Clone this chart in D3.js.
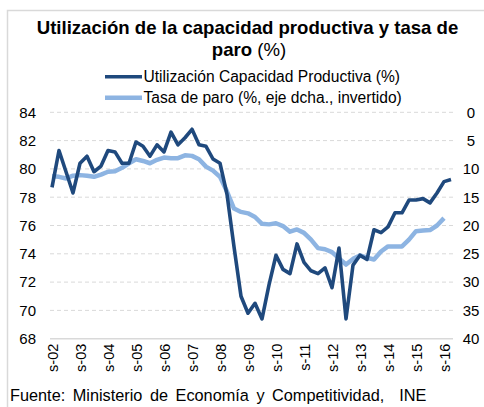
<!DOCTYPE html>
<html>
<head>
<meta charset="utf-8">
<script src="https://cdn.jsdelivr.net/npm/d3@7"></script>
<style>
  body { margin: 0; background: #fff; }
  svg { display: block; font-family: Arial, "Liberation Sans", sans-serif; }
  .grid line { stroke: #d9d9d9; stroke-dasharray: 4,3; }
  .axis text { fill: #000; }
</style>
</head>
<body>
<svg width="484" height="407"></svg>
<script>
// Utilización de la capacidad productiva (%), trimestral, desde sep-02
const capacidad = [
  78.7, 81.3, 79.8, 78.3, 80.4, 80.9, 79.8, 80.2, 81.3, 81.2,
  80.4, 80.4, 81.9, 81.6, 80.9, 81.7, 81.2, 82.6, 81.7, 82.2,
  82.8, 81.7, 81.6, 80.7, 80.4, 78.2, 74.5, 71.0, 69.8, 70.5,
  69.4, 71.8, 73.9, 72.9, 72.6, 74.7, 73.4, 72.8, 72.6, 73.0,
  71.6, 74.4, 69.4, 73.2, 73.9, 73.6, 75.7, 75.5, 75.9, 76.9,
  76.9, 77.8, 77.8, 77.9, 77.6, 78.3, 79.1, 79.25
];
// Tasa de paro (%), eje derecho invertido
const paro = [
  11.3, 11.4, 11.7, 11.2, 11.1, 11.2, 11.4, 11.0, 10.5, 10.4,
  9.8, 9.0, 8.3, 8.6, 9.0, 8.4, 8.0, 8.1, 8.1, 7.6,
  7.7, 8.3, 9.6, 10.3, 11.4, 14.0, 17.0, 17.6, 17.85, 18.5,
  19.7, 19.8, 19.6, 20.1, 21.1, 20.7, 21.3, 22.5, 24.0, 24.2,
  24.7, 25.8, 26.9, 25.9, 25.3, 25.7, 26.0, 24.6, 23.7, 23.7,
  23.7, 22.5, 21.0, 20.9, 20.8, 20.0, 18.7
];
const xLabels = ['s-02', 's-03', 's-04', 's-05', 's-06', 's-07', 's-08', 's-09',
  's-10', 's-11', 's-12', 's-13', 's-14', 's-15', 's-16'];
const leftTicks = [68, 70, 72, 74, 76, 78, 80, 82, 84];
const rightTicks = [0, 5, 10, 15, 20, 25, 30, 35, 40];
const seriesNames = ['Utilización Capacidad Productiva (%)', 'Tasa de paro (%, eje dcha., invertido)'];

const colors = { dark: '#1f497d', light: '#8db4e2' };
const plot = { left: 50, right: 453, top: 112.3, bottom: 338.7 };

const svg = d3.select('svg');

// frame
svg.append('rect')
  .attr('x', 7.5).attr('y', 10.5)
  .attr('width', 490).attr('height', 420)
  .attr('fill', 'none').attr('stroke', '#d9d9d9').attr('stroke-width', 1.5);

// title
const title = svg.append('text').attr('text-anchor', 'middle').attr('font-size', 18.6);
title.append('tspan').attr('x', 247.5).attr('y', 34).attr('font-weight', 'bold')
  .text('Utilización de la capacidad productiva y tasa de');
const t2 = title.append('tspan').attr('x', 249).attr('y', 56);
t2.append('tspan').attr('font-weight', 'bold').text('paro');
t2.append('tspan').text(' (%)');

// scales
const x = d3.scaleLinear().domain([0, capacidad.length - 1]).range([52, 451]);
const yL = d3.scaleLinear().domain([68, 84]).range([plot.bottom, plot.top]);
const yR = d3.scaleLinear().domain([0, 40]).range([plot.top, plot.bottom]);

// gridlines
svg.append('g').attr('class', 'grid')
  .selectAll('line')
  .data(leftTicks.filter(d => d > 68))
  .join('line')
  .attr('x1', plot.left).attr('x2', plot.right)
  .attr('y1', d => yL(d)).attr('y2', d => yL(d));

svg.append('line')
  .attr('x1', plot.left).attr('x2', plot.right)
  .attr('y1', yL(68)).attr('y2', yL(68))
  .attr('stroke', '#d9d9d9').attr('stroke-width', 1.5);

// axes
const axisL = d3.axisLeft(yL).tickValues(leftTicks).tickSize(0).tickPadding(14);
svg.append('g').attr('class', 'axis')
  .attr('transform', `translate(${plot.left},0)`)
  .call(axisL)
  .call(g => g.select('.domain').remove())
  .selectAll('text').attr('font-size', 15).attr('font-family', null);

const axisR = d3.axisRight(yR).tickValues(rightTicks).tickSize(0).tickPadding(18);
svg.append('g').attr('class', 'axis')
  .attr('transform', `translate(${plot.right},0)`)
  .call(axisR)
  .call(g => g.select('.domain').remove())
  .selectAll('text').attr('font-size', 15).attr('font-family', null)
  .attr('text-anchor', 'middle');

const axisX = d3.axisBottom(x)
  .tickValues(d3.range(0, 57, 4))
  .tickFormat((d, i) => xLabels[i])
  .tickSize(0);
svg.append('g').attr('class', 'axis')
  .attr('transform', `translate(0,${plot.bottom})`)
  .call(axisX)
  .call(g => g.select('.domain').remove())
  .selectAll('text')
  .attr('font-size', 14.5).attr('font-family', null)
  .attr('transform', 'rotate(-90)')
  .attr('text-anchor', 'end')
  .attr('x', -5).attr('y', 0).attr('dy', '0.36em');

// lines
const lineL = d3.line().x((d, i) => x(i)).y(d => yL(d));
const lineR = d3.line().x((d, i) => x(i)).y(d => yR(d));

svg.append('path').datum(paro)
  .attr('d', lineR)
  .attr('fill', 'none').attr('stroke', colors.light)
  .attr('stroke-width', 4.5).attr('stroke-linejoin', 'round');

svg.append('path').datum(capacidad)
  .attr('d', lineL)
  .attr('fill', 'none').attr('stroke', colors.dark)
  .attr('stroke-width', 3.6).attr('stroke-linejoin', 'round');

// legend
const legend = svg.append('g');
const rows = legend.selectAll('g')
  .data(seriesNames)
  .join('g')
  .attr('transform', (d, i) => `translate(0,${76.7 + i * 21})`);
rows.append('line')
  .attr('x1', 105).attr('x2', 142)
  .attr('stroke', (d, i) => i === 0 ? colors.dark : colors.light)
  .attr('stroke-width', (d, i) => i === 0 ? 3.6 : 4.5);
rows.append('text')
  .attr('x', 143.5).attr('y', 5.5)
  .attr('font-size', 15.6)
  .text(d => d);

// source
svg.append('text')
  .attr('x', 10).attr('y', 401)
  .attr('font-size', 16.3)
  .attr('word-spacing', 3)
  .text('Fuente: Ministerio de Economía y Competitividad,  INE')
  .style('white-space', 'pre');
</script>
</body>
</html>
